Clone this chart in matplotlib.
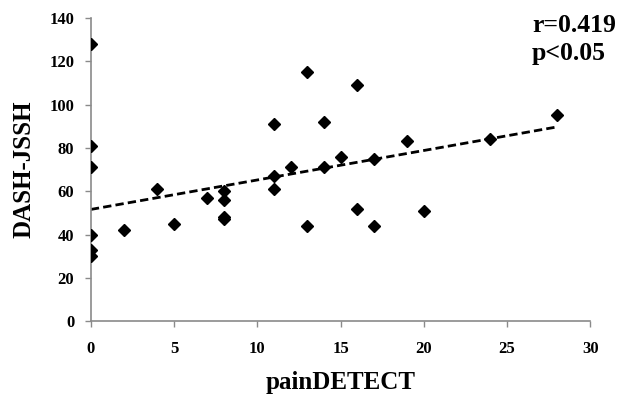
import numpy as np
import matplotlib
matplotlib.use("Agg")
import matplotlib.pyplot as plt

pain_detect = [0, 0, 0, 0, 0, 0, 2, 4, 5, 7, 8, 8, 8, 8, 11, 11, 11, 12, 13, 13,
               14, 14, 15, 16, 16, 17, 17, 19, 20, 24, 28]
dash_jssh = [128, 81, 71, 40, 33, 30, 42, 61, 45, 57, 60, 56, 48, 47, 91, 67, 61, 71, 115, 44,
             92, 71, 76, 109, 52, 75, 44, 83, 51, 84, 95]
x_ticks = [0, 5, 10, 15, 20, 25, 30]
y_ticks = [0, 20, 40, 60, 80, 100, 120, 140]
# trend line as drawn in the figure
trend_intercept = 51.6
trend_slope = 1.36
trend_x_range = [0, 28]

plt.rcParams['font.family'] = ['Liberation Serif', 'DejaVu Serif']
plt.rcParams['font.weight'] = 'bold'

fig = plt.figure(figsize=(6.18, 3.99), dpi=100)
ax = fig.add_axes([0.147, 0.195, 0.808, 0.76])

x = np.array(pain_detect, dtype=float)
y = np.array(dash_jssh, dtype=float)
ax.plot(x, y, linestyle='none', marker='D', markersize=6.6, color='black', zorder=3)

xl = np.array(trend_x_range, dtype=float)
ax.plot(xl, trend_intercept + trend_slope * xl, color='black', linewidth=2.0,
        linestyle=(0, (3, 1.5)), zorder=2)

ax.set_xlim(0, 30)
ax.set_ylim(0, 140)
ax.set_xticks(x_ticks)
ax.set_yticks(y_ticks)
for s in ['top', 'right']:
    ax.spines[s].set_visible(False)
for s in ['left', 'bottom']:
    ax.spines[s].set_color('#8a8a8a')
    ax.spines[s].set_linewidth(1.2)
ax.tick_params(axis='both', direction='out', length=4, width=1.0, color='#8a8a8a',
               labelsize=12)
ax.tick_params(axis='x', pad=10)
ax.tick_params(axis='y', pad=8)
for lab in ax.get_xticklabels() + ax.get_yticklabels():
    lab.set_fontweight('bold')

ax.set_xlabel('painDETECT', fontsize=18, fontweight='bold')
ax.set_ylabel('DASH-JSSH', fontsize=18, fontweight='bold')
ax.xaxis.set_label_coords(0.5, -0.165)
ax.yaxis.set_label_coords(-0.11, 0.5)

fig.text(532 / 618, 1 - 32 / 399, 'r=0.419', fontsize=18.5, fontweight='bold',
         va='baseline', ha='left')
fig.text(532 / 618, 1 - 60 / 399, 'p<0.05', fontsize=18.5, fontweight='bold',
         va='baseline', ha='left')

fig.savefig('out.png', dpi=100, facecolor='white')
